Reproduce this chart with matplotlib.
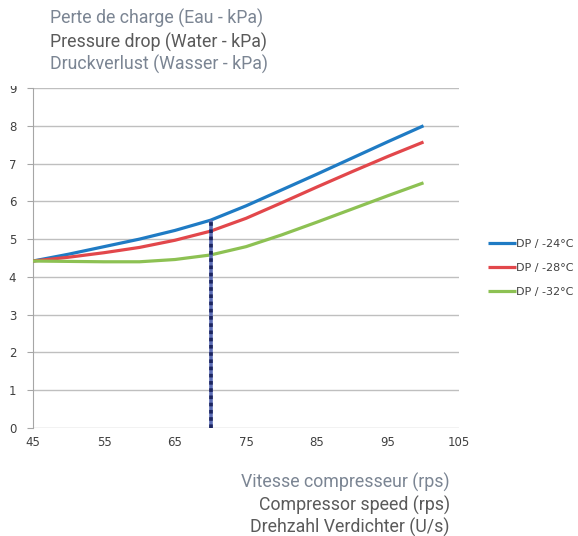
import numpy as np
import matplotlib
matplotlib.use("Agg")
import matplotlib.pyplot as plt
from matplotlib.patches import Rectangle

# compressor speed (rps)
rps = [45, 50, 55, 60, 65, 70, 75, 80, 85, 90, 95, 100]
# pressure drop (kPa)
dp_24 = [4.42, 4.60, 4.80, 5.00, 5.23, 5.50, 5.88, 6.30, 6.72, 7.15, 7.58, 8.00]
dp_28 = [4.42, 4.52, 4.64, 4.78, 4.97, 5.21, 5.55, 5.96, 6.38, 6.79, 7.19, 7.57]
dp_32 = [4.42, 4.41, 4.40, 4.40, 4.46, 4.58, 4.80, 5.11, 5.45, 5.80, 6.15, 6.49]
labels = ['DP / -24°C', 'DP / -28°C', 'DP / -32°C']
colors = ['#1f7bc4', '#e2474b', '#8dc153']

x_mark = 70
y_mark = 5.5

xticks = [45, 55, 65, 75, 85, 95, 105]
yticks = list(range(0, 10))

fig = plt.figure(figsize=(5.78, 5.36), dpi=100)
ax = fig.add_axes([33/578, 1-428/536, (459-33)/578, (428-88)/536])

for y, lab, c in zip([dp_24, dp_28, dp_32], labels, colors):
    ax.plot(rps, y, color=c, lw=2.3, label=lab, solid_capstyle='butt',
            solid_joinstyle='round', zorder=3)

# marker line at 70 rps
ax.plot([x_mark, x_mark], [0, y_mark], color='#5c6db5', lw=2.6, zorder=4, solid_capstyle='butt')
ax.plot([x_mark, x_mark], [0, y_mark], color='#1c2560', lw=2.6, ls=(0, (1, 1)), zorder=5)

ax.set_xlim(45, 105)
ax.set_ylim(0, 9)
ax.set_xticks(xticks)
ax.set_yticks(yticks)
ax.grid(axis='y', color='#bfbfbf', lw=1)
ax.set_axisbelow(True)
for s in ['top', 'right', 'bottom']:
    ax.spines[s].set_visible(False)
ax.spines['left'].set_color('#a6a6a6')
ax.tick_params(axis='y', length=4, color='#a6a6a6', labelsize=8.5, labelcolor='#404040', pad=8)
ax.tick_params(axis='x', length=0, labelsize=8.5, labelcolor='#404040', pad=6)

leg = ax.legend(loc='center left', bbox_to_anchor=(1.058, 0.47), frameon=False,
                fontsize=8, handlelength=2.5, handletextpad=0.05, labelspacing=1.25,
                borderaxespad=0)
for t in leg.get_texts():
    t.set_color('#404040')

# cover top of "9" label as in reference
fig.patches.append(Rectangle((0, 1-86/536), 33/578, 86/536, transform=fig.transFigure,
                             facecolor='white', edgecolor='none', zorder=10))

tfont = 'Roboto'
fs = 12.8
fig.text(50/578, 1-18/536, 'Perte de charge (Eau - kPa)', color='#7b8593', fontsize=fs, family=tfont, va='center')
fig.text(50/578, 1-42/536, 'Pressure drop (Water - kPa)', color='#5a5a5a', fontsize=fs, family=tfont, va='center')
fig.text(50/578, 1-64/536, 'Druckverlust (Wasser - kPa)', color='#7b8593', fontsize=fs, family=tfont, va='center')

fig.text(450/578, 1-482/536, 'Vitesse compresseur (rps)', color='#7b8593', fontsize=fs, family=tfont, va='center', ha='right')
fig.text(450/578, 1-505/536, 'Compressor speed (rps)', color='#5a5a5a', fontsize=fs, family=tfont, va='center', ha='right')
fig.text(450/578, 1-527/536, 'Drehzahl Verdichter (U/s)', color='#5a5a5a', fontsize=fs, family=tfont, va='center', ha='right')

plt.savefig('out.png', dpi=100)
